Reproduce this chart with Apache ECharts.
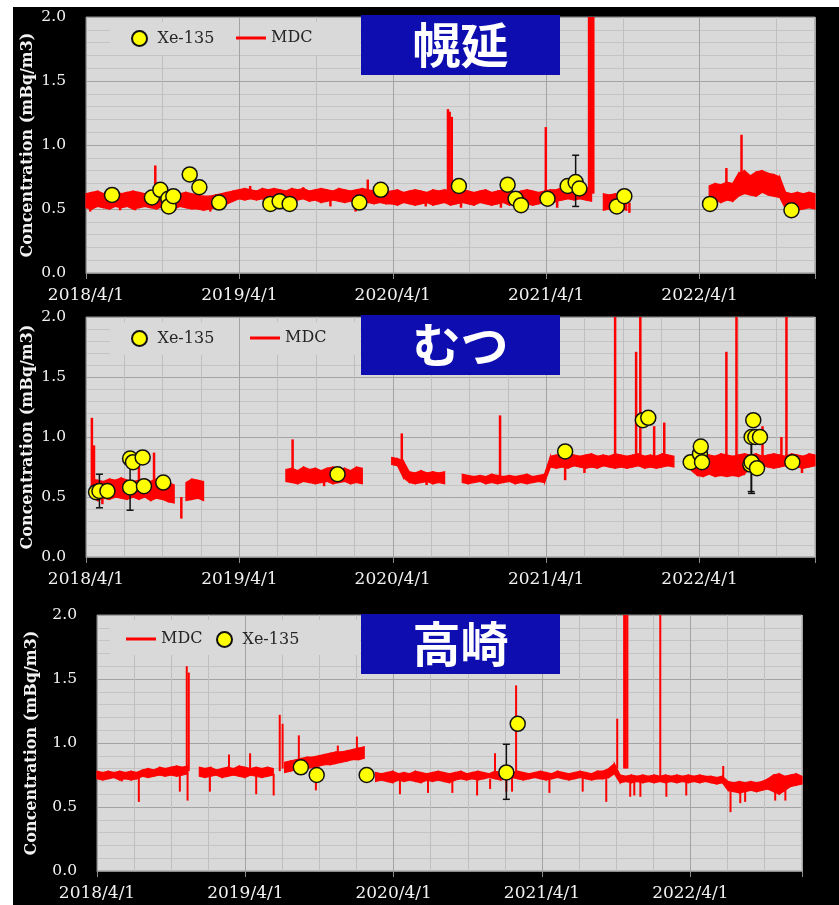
<!DOCTYPE html>
<html><head><meta charset="utf-8">
<script src="https://cdn.jsdelivr.net/npm/echarts@6/dist/echarts.min.js"></script>
<style>html,body{margin:0;padding:0;background:#fff;}#c{width:839px;height:905px;}</style>
</head><body><div id="c"></div>
<script>
// ---------- DATA ----------
const tickLabels = ['2018/4/1','2019/4/1','2020/4/1','2021/4/1','2022/4/1'];
const axisStart = '2018-04-01';
const axisEnd = '2023-01-01';
const bandStepDays = 14;   // MDC band (low / high envelope) read every two weeks from 2018-04-01
const stationNames = ['幌延','むつ','高崎'];

// ---- 幌延 MDC band ----
const mdcHoronobeHi = [
0.62,0.63,0.64,0.62,0.63,0.64,0.62,0.63,0.64,0.63,0.62,0.64,0.63,0.62,0.64,0.63,0.62,0.63,0.62,
0.61,0.60,0.60,0.61,0.62,0.63,0.64,
0.65,0.66,0.65,0.64,0.66,0.65,0.66,0.65,0.64,0.66,0.65,0.66,0.64,0.65,0.66,0.65,0.64,0.66,0.65,0.64,0.65,0.66,0.65,0.64,0.65,0.64,
0.64,0.65,0.63,0.64,0.65,0.64,0.63,0.65,0.64,0.65,0.64,0.63,0.65,0.64,0.63,0.64,0.65,0.63,0.64,0.65,0.64,0.63,0.64,0.65,0.64,0.63,0.64,0.65,
0.65,0.67,0.68,0.67,0.68,0.67,0.66,
null,
0.62,0.61,0.62,0.61,0.62,
null,null,null,null,null,null,null,null,null,null,null,null,null,
0.68,0.70,0.69,0.71,0.70,
0.78,0.80,0.76,0.79,0.80,0.78,0.77,0.75,
0.63,0.62,0.63,0.62,0.63,0.62];
const mdcHoronobeLo = [
0.51,0.50,0.52,0.51,0.50,0.52,0.51,0.52,0.50,0.51,0.52,0.51,0.50,0.52,0.51,0.50,0.52,0.51,0.50,
0.50,0.49,0.50,0.51,0.52,0.54,0.56,
0.58,0.57,0.58,0.57,0.58,0.56,0.57,0.58,0.57,0.56,0.57,0.58,0.56,0.57,0.55,0.56,0.57,0.56,0.55,0.56,0.55,0.56,0.55,0.54,0.55,0.54,
0.54,0.53,0.55,0.54,0.53,0.54,0.55,0.53,0.54,0.55,0.53,0.54,0.55,0.54,0.53,0.55,0.54,0.53,0.54,0.55,0.53,0.54,0.55,0.54,0.53,0.54,0.55,0.54,
0.56,0.57,0.58,0.57,0.58,0.57,0.56,
null,
0.49,0.50,0.48,0.50,0.49,
null,null,null,null,null,null,null,null,null,null,null,null,null,
0.56,0.57,0.55,0.57,0.56,
0.60,0.62,0.61,0.60,0.63,0.61,0.60,0.59,
0.50,0.51,0.49,0.50,0.51,0.50];
// 幌延 spikes and dips: date, band value, extreme value
const spkHoronobeDates = ['2018-04-11','2018-06-21','2018-07-27','2018-09-13','2018-10-02','2019-01-22','2019-04-27','2019-06-14','2019-08-31','2019-11-04','2020-01-03','2020-02-01','2020-06-18','2020-08-10','2020-08-14','2020-08-19','2020-09-10','2020-12-14','2021-01-31','2021-03-31','2021-04-27','2021-07-12','2021-07-17','2021-07-22','2021-10-16','2022-06-04','2022-07-10','2022-11-18'];
const spkHoronobeFrom = [0.56,0.56,0.56,0.60,0.56,0.55,0.62,0.60,0.62,0.60,0.58,0.62,0.58,0.60,0.60,0.60,0.58,0.58,0.58,0.60,0.58,0.62,0.62,0.62,0.55,0.65,0.68,0.56];
const spkHoronobeTo = [0.48,0.49,0.49,0.84,0.49,0.48,0.68,0.52,0.67,0.52,0.48,0.73,0.52,1.28,1.26,1.22,0.51,0.51,0.50,1.14,0.51,3.0,3.0,3.0,0.47,0.82,1.08,0.47];

// ---- むつ MDC band ----
const mdcMutsuHi = [
null,
0.65,0.64,0.63,0.65,0.64,0.66,0.64,0.63,
0.64,0.65,0.63,0.65,0.64,0.62,0.60,
null,
0.62,0.65,0.64,0.63,
null,null,null,null,null,null,null,null,null,null,null,null,null,
0.73,0.74,0.72,0.75,0.73,0.74,0.72,0.74,0.75,0.73,0.74,0.72,0.75,0.74,
null,null,null,null,
0.83,0.82,0.80,
0.71,0.70,0.72,0.70,0.71,0.70,0.71,
null,null,
0.69,0.68,0.67,0.68,0.67,0.69,0.68,0.67,0.68,0.67,0.68,0.69,0.67,0.68,0.69,
0.84,0.85,0.84,0.86,0.85,0.84,0.85,0.86,0.84,0.85,0.84,0.86,0.85,0.84,0.85,0.86,0.84,0.85,0.84,0.86,0.85,0.84,
null,null,
0.85,0.84,0.86,0.85,0.84,0.86,0.85,0.84,0.85,0.86,
0.85,0.86,0.84,0.85,0.86,0.85,0.84,0.86,0.85,0.84,0.86,0.85];
const mdcMutsuLo = [
null,
0.50,0.47,0.49,0.48,0.50,0.49,0.48,0.50,
0.48,0.50,0.47,0.49,0.48,0.46,0.45,
null,
0.47,0.48,0.49,0.47,
null,null,null,null,null,null,null,null,null,null,null,null,null,
0.63,0.62,0.61,0.63,0.62,0.61,0.62,0.63,0.61,0.62,0.63,0.61,0.62,0.61,
null,null,null,null,
0.77,0.76,0.66,
0.62,0.61,0.62,0.63,0.61,0.62,0.61,
null,null,
0.62,0.61,0.62,0.63,0.61,0.62,0.61,0.62,0.63,0.61,0.62,0.61,0.62,0.63,0.62,
0.75,0.74,0.75,0.74,0.76,0.75,0.74,0.75,0.74,0.76,0.75,0.74,0.75,0.74,0.75,0.76,0.74,0.75,0.74,0.75,0.76,0.75,
null,null,
0.72,0.68,0.67,0.69,0.67,0.68,0.67,0.68,0.67,0.69,
0.75,0.74,0.76,0.75,0.74,0.75,0.76,0.74,0.75,0.74,0.75,0.76];
const spkMutsuDates = ['2018-04-15','2018-04-20','2018-05-10','2018-08-05','2018-09-10','2018-11-14','2019-08-06','2019-10-20','2020-04-22','2020-06-20','2020-12-12','2021-05-16','2021-07-01','2021-09-12','2021-11-01','2021-11-11','2021-12-14','2022-01-07','2022-06-04','2022-06-28','2022-08-29','2022-10-13','2022-10-25','2022-12-01'];
const spkMutsuFrom = [0.55,0.55,0.50,0.55,0.55,0.50,0.68,0.66,0.80,0.65,0.65,0.78,0.78,0.80,0.80,0.80,0.80,0.80,0.80,0.80,0.80,0.80,0.80,0.80];
const spkMutsuTo = [1.16,0.93,0.44,0.82,0.87,0.32,0.98,0.59,1.03,0.60,1.18,0.64,0.70,3.0,1.71,3.0,1.09,1.12,1.71,3.0,1.09,1.00,3.0,0.70];

// ---- 高崎 MDC band ----
const mdcTakasakiHi = [
0.78,0.77,0.78,0.77,0.78,0.77,0.78,0.77,
0.79,0.80,0.79,0.81,0.80,0.81,0.82,0.81,0.82,
null,
0.81,0.80,0.81,0.79,0.80,0.81,0.80,0.82,0.81,0.80,0.81,0.80,0.81,0.80,
null,
0.85,0.86,0.87,0.88,0.89,0.89,0.90,0.91,0.92,0.93,0.93,0.94,0.95,0.96,0.97,
null,
0.77,0.76,0.77,0.78,0.76,0.77,0.76,0.78,0.77,0.76,0.77,0.78,0.77,0.76,0.77,0.78,0.76,0.77,0.78,0.77,
0.76,0.78,0.77,0.76,0.77,0.78,0.77,0.76,0.77,0.78,0.77,0.76,0.78,0.77,0.76,0.77,0.78,0.77,0.76,0.78,
0.78,0.80,0.84,
0.75,0.74,0.75,0.74,0.75,0.74,0.75,0.74,0.75,0.74,0.75,0.74,0.75,0.74,0.75,0.74,
0.74,0.73,0.74,
0.70,0.69,0.70,0.69,0.70,0.69,0.70,0.72,
0.75,0.76,0.74,0.75,0.76,0.74];
const mdcTakasakiLo = [
0.72,0.71,0.72,0.73,0.71,0.72,0.71,0.72,
0.74,0.73,0.74,0.75,0.74,0.75,0.74,0.75,0.76,
null,
0.74,0.73,0.74,0.75,0.73,0.74,0.75,0.74,0.73,0.75,0.74,0.73,0.74,0.75,
null,
0.77,0.78,0.79,0.79,0.80,0.81,0.82,0.83,0.83,0.84,0.85,0.86,0.87,0.87,0.88,
null,
0.70,0.71,0.70,0.69,0.71,0.70,0.71,0.70,0.69,0.71,0.70,0.71,0.70,0.69,0.71,0.72,0.71,0.72,0.71,0.72,
0.73,0.72,0.71,0.72,0.73,0.72,0.71,0.72,0.73,0.72,0.71,0.72,0.73,0.72,0.71,0.72,0.73,0.72,0.71,0.72,
0.72,0.73,0.76,
0.69,0.70,0.69,0.70,0.69,0.70,0.69,0.70,0.69,0.70,0.69,0.70,0.69,0.70,0.69,0.70,
0.69,0.68,0.69,
0.63,0.62,0.61,0.62,0.63,0.62,0.63,0.64,
0.62,0.60,0.63,0.66,0.67,0.68];
const spkTakasakiDates = ['2018-06-01','2018-07-13','2018-10-22','2018-11-08','2018-11-10','2018-11-13','2019-01-04','2019-02-20','2019-04-13','2019-04-28','2019-06-10','2019-06-25','2019-07-02','2019-08-11','2019-09-22','2019-11-15','2020-01-01','2020-04-16','2020-06-24','2020-08-23','2020-10-23','2020-11-24','2020-12-06','2021-01-03','2021-01-17','2021-01-27','2021-04-19','2021-07-10','2021-09-06','2021-10-03','2021-10-20','2021-10-24','2021-10-28','2021-11-04','2021-11-14','2021-11-29','2022-01-17','2022-02-01','2022-03-22','2022-06-21','2022-07-09','2022-08-02','2022-08-14','2022-10-27','2022-11-21'];
const spkTakasakiFrom = [0.74,0.75,0.76,0.78,0.76,0.78,0.76,0.76,0.78,0.76,0.76,0.78,0.80,0.82,0.80,0.86,0.90,0.72,0.72,0.72,0.72,0.72,0.75,0.74,0.74,0.76,0.74,0.74,0.74,0.80,0.80,0.80,0.80,0.72,0.72,0.72,0.72,0.70,0.70,0.72,0.66,0.65,0.65,0.66,0.66];
const spkTakasakiTo = [0.70,0.54,0.62,1.60,0.55,1.55,0.62,0.91,0.92,0.60,0.59,1.22,1.15,1.06,0.63,0.98,1.05,0.60,0.61,0.61,0.59,0.64,0.92,0.62,0.62,1.45,0.61,0.62,0.54,1.19,3.0,3.0,3.0,0.58,0.59,0.58,3.0,0.58,0.59,0.82,0.46,0.53,0.54,0.55,0.55];

// ---- Xe-135 detections ----
const xeHoronobeDates = ['2018-06-02','2018-09-05','2018-09-25','2018-10-14','2018-10-15','2018-10-26','2018-12-04','2018-12-27','2019-02-12','2019-06-14','2019-07-06','2019-07-30','2020-01-12','2020-03-03','2020-09-05','2020-12-30','2021-01-18','2021-01-31','2021-04-04','2021-05-22','2021-06-10','2021-06-19','2021-09-16','2021-10-04','2022-04-26','2022-11-06'];
const xeHoronobe = [0.61,0.59,0.65,0.58,0.52,0.60,0.77,0.67,0.55,0.54,0.56,0.54,0.55,0.65,0.68,0.69,0.58,0.53,0.58,0.68,0.71,0.66,0.52,0.60,0.54,0.49];
const errHoronobeDates = ['2021-06-10'];
const errHoronobeLo = [0.52];
const errHoronobeHi = [0.92];

const xeMutsuDates = ['2018-04-25','2018-05-03','2018-05-22','2018-07-15','2018-07-15','2018-07-22','2018-08-14','2018-08-17','2018-10-02','2019-11-21','2021-05-16','2021-11-17','2021-11-30','2022-03-11','2022-04-02','2022-04-04','2022-04-07','2022-07-31','2022-08-03','2022-08-03','2022-08-07','2022-08-12','2022-08-16','2022-08-23','2022-11-08'];
const xeMutsu = [0.54,0.55,0.55,0.58,0.82,0.79,0.83,0.59,0.62,0.69,0.88,1.14,1.16,0.79,0.86,0.92,0.79,0.77,0.79,1.00,1.14,1.00,0.74,1.00,0.79];
const errMutsuDates = ['2018-05-03','2018-07-15','2022-08-02','2022-08-03'];
const errMutsuLo = [0.41,0.39,0.545,0.53];
const errMutsuHi = [0.69,0.77,1.03,1.00];

const xeTakasakiDates = ['2019-08-16','2019-09-24','2020-01-25','2021-01-03','2021-01-31'];
const xeTakasaki = [0.81,0.75,0.75,0.77,1.15];
const errTakasakiDates = ['2021-01-03'];
const errTakasakiLo = [0.56];
const errTakasakiHi = [0.99];

// ---------- HELPERS ----------
function parseUTC(s){const p=s.split('-').map(Number);return Date.UTC(p[0],p[1]-1,p[2]);}
const BASE = parseUTC(axisStart);
function dayOf(s){return (parseUTC(s)-BASE)/86400000;}
const XMAX = dayOf(axisEnd);
const YEAR = 365.25;

// band segments between consecutive non-null envelope readings
function bandSegments(lo,hi){
  const out=[];
  for(let j=0;j+1<lo.length;j++){
    if(lo[j]==null||lo[j+1]==null) continue;
    out.push([j*bandStepDays, lo[j], hi[j], (j+1)*bandStepDays, lo[j+1], hi[j+1]]);
  }
  return out;
}
function pairs(d,v){return d.map((s,i)=>[dayOf(s), v[i]]);}
function triples(d,a,b){return d.map((s,i)=>[dayOf(s), a[i], b[i]]);}

function clampY(cs,y){return Math.max(cs.y, Math.min(cs.y+cs.height, y));}
function bandRender(params, api){
  const p1=api.coord([api.value(0),api.value(1)]), p2=api.coord([api.value(0),api.value(2)]);
  const p3=api.coord([api.value(3),api.value(5)]), p4=api.coord([api.value(3),api.value(4)]);
  return {type:'polygon', shape:{points:[p1,p2,p3,p4]},
    style:{fill:'#ff0000', stroke:'#ff0000', lineWidth:1.2}};
}
function errRender(params, api){
  const x=api.value(0);
  const a=api.coord([x,api.value(1)]), b=api.coord([x,api.value(2)]);
  const w=3.5, st={stroke:'#111', lineWidth:1.5};
  return {type:'group', children:[
    {type:'line', shape:{x1:a[0],y1:a[1],x2:b[0],y2:b[1]}, style:st},
    {type:'line', shape:{x1:a[0]-w,y1:a[1],x2:a[0]+w,y2:a[1]}, style:st},
    {type:'line', shape:{x1:b[0]-w,y1:b[1],x2:b[0]+w,y2:b[1]}, style:st}
  ]};
}
function spikeRender(lw){
  return function(params, api){
    const cs=params.coordSys, x=api.value(0);
    const a=api.coord([x,api.value(1)]), b=api.coord([x,api.value(2)]);
    return {type:'line', shape:{x1:a[0],y1:clampY(cs,a[1]),x2:b[0],y2:clampY(cs,b[1])},
      style:{stroke:'#ff0000', lineWidth:lw}};
  };
}

// ---------- LAYOUT ----------
const panels = [
  {left:86, top:17, width:729, height:256, minorDays:182.625, nameGap:50, lw:2.5,
   lo:mdcHoronobeLo, hi:mdcHoronobeHi, sd:spkHoronobeDates, sf:spkHoronobeFrom, st:spkHoronobeTo,
   xd:xeHoronobeDates, xv:xeHoronobe, ed:errHoronobeDates, el:errHoronobeLo, eh:errHoronobeHi,
   box:{x:361,y:15}, legXe:{left:131,top:30}, legMdc:{left:236,top:30}, legBg:{x:110,y:22,w:250,h:33}},
  {left:86, top:317, width:729, height:240, minorDays:91.3125, nameGap:50, lw:2.5,
   lo:mdcMutsuLo, hi:mdcMutsuHi, sd:spkMutsuDates, sf:spkMutsuFrom, st:spkMutsuTo,
   xd:xeMutsuDates, xv:xeMutsu, ed:errMutsuDates, el:errMutsuLo, eh:errMutsuHi,
   box:{x:361,y:315}, legXe:{left:131,top:330}, legMdc:{left:250,top:330}, legBg:{x:110,y:322,w:250,h:33}},
  {left:97, top:615, width:705, height:256, minorDays:91.3125, nameGap:57, lw:2,
   lo:mdcTakasakiLo, hi:mdcTakasakiHi, sd:spkTakasakiDates, sf:spkTakasakiFrom, st:spkTakasakiTo,
   xd:xeTakasakiDates, xv:xeTakasaki, ed:errTakasakiDates, el:errTakasakiLo, eh:errTakasakiHi,
   box:{x:361,y:614}, legXe:{left:216,top:631}, legMdc:{left:126,top:631}, legBg:{x:110,y:620,w:250,h:35}}
];

const FONT = 'DejaVu Serif';
const RED = '#ff0000';
const grid=[], xAxis=[], yAxis=[], series=[], legend=[], graphic=[];

panels.forEach((p,k)=>{
  grid.push({left:p.left, top:p.top, width:p.width, height:p.height, show:true,
    backgroundColor:'#d9d9d9', borderColor:'#8c8c8c', borderWidth:1, outerBoundsMode:'none', containLabel:false});
  xAxis.push({type:'value', gridIndex:k, position:'bottom', min:0, max:XMAX, interval:YEAR,
    axisLine:{show:true, lineStyle:{color:'#8c8c8c', width:1}},
    axisTick:{show:true, length:6, lineStyle:{color:'#8c8c8c'}},
    axisLabel:{color:'#f2f2f2', fontFamily:FONT, fontSize:17, margin:14, showMaxLabel:true, hideOverlap:false,
      formatter:function(v){const j=Math.round(v/YEAR);return (Math.abs(v-j*YEAR)<0.5 && j<tickLabels.length)?tickLabels[j]:'';}},
    splitLine:{show:true, lineStyle:{color:'#a3a3a3', width:1}}, z:1});
  xAxis.push({type:'value', gridIndex:k, position:'top', min:0, max:XMAX, interval:p.minorDays,
    axisLine:{show:false}, axisTick:{show:false}, axisLabel:{show:false},
    splitLine:{show:true, lineStyle:{color:'#bfbfbf', width:1}}, z:0});
  yAxis.push({type:'value', gridIndex:k, min:0, max:2, interval:0.5,
    name:'Concentration (mBq/m3)', nameLocation:'middle', nameGap:p.nameGap, nameMoveOverlap:false,
    nameTextStyle:{color:'#f2f2f2', fontFamily:FONT, fontWeight:'bold', fontSize:16},
    axisLine:{show:false}, axisTick:{show:false},
    axisLabel:{color:'#f2f2f2', fontFamily:FONT, fontSize:15.5, margin:20, formatter:v=>v.toFixed(1)},
    splitLine:{show:true, lineStyle:{color:'#a3a3a3', width:1}},
    minorTick:{show:false, splitNumber:5},
    minorSplitLine:{show:true, lineStyle:{color:'#c4c4c4', width:1}}});
  const xi=k*2;
  series.push({type:'custom', name:'MDC', xAxisIndex:xi, yAxisIndex:k, data:bandSegments(p.lo,p.hi),
    renderItem:bandRender, encode:{x:[0,3], y:[1,2,4,5]}, itemStyle:{color:RED}, z:2, animation:false});
  series.push({type:'custom', name:'MDC spikes', xAxisIndex:xi, yAxisIndex:k, data:triples(p.sd,p.sf,p.st),
    renderItem:spikeRender(p.lw), encode:{x:0, y:[1,2]}, itemStyle:{color:RED}, z:2, animation:false});
  series.push({type:'custom', name:'err', xAxisIndex:xi, yAxisIndex:k, data:triples(p.ed,p.el,p.eh),
    renderItem:errRender, encode:{x:0, y:[1,2]}, z:3, animation:false});
  series.push({type:'scatter', name:'Xe-135', xAxisIndex:xi, yAxisIndex:k, data:pairs(p.xd,p.xv),
    symbol:'circle', symbolSize:15, color:'#ffff00',
    itemStyle:{color:'#ffff00', borderColor:'#111', borderWidth:1.5, opacity:1}, z:4, animation:false});
  legend.push({data:[{name:'Xe-135', icon:'circle'}], left:p.legXe.left, top:p.legXe.top, padding:0,
    itemWidth:26, itemHeight:15, selectedMode:false, z:6,
    textStyle:{color:'#262626', fontFamily:FONT, fontSize:16, lineHeight:16}});
  legend.push({data:[{name:'MDC', icon:'rect', itemStyle:{color:RED}}], left:p.legMdc.left, top:p.legMdc.top, padding:0,
    itemWidth:30, itemHeight:3, selectedMode:false, z:6,
    textStyle:{color:'#262626', fontFamily:FONT, fontSize:16, lineHeight:16}});
  graphic.push({type:'rect', shape:{x:p.legBg.x, y:p.legBg.y, width:p.legBg.w, height:p.legBg.h},
    style:{fill:'#d9d9d9'}, z:1, silent:true});
  graphic.push({type:'rect', shape:{x:p.box.x, y:p.box.y, width:199, height:60},
    style:{fill:'#0d0db0'}, z:20, silent:true});
  graphic.push({type:'text', x:p.box.x+99.5, y:p.box.y+30,
    style:{text:stationNames[k], fill:'#ffffff', font:'bold 48px "Noto Sans CJK JP"', align:'center', verticalAlign:'middle'},
    z:21, silent:true});
});
graphic.push({type:'rect', shape:{x:0,y:0,width:839,height:7}, style:{fill:'#ffffff'}, z:50, silent:true});
graphic.push({type:'rect', shape:{x:0,y:0,width:13,height:905}, style:{fill:'#ffffff'}, z:50, silent:true});

const chart = echarts.init(document.getElementById('c'), null, {renderer:'canvas'});
chart.setOption({
  backgroundColor:'#000000', animation:false,
  grid, xAxis, yAxis, series, legend, graphic
});
</script>
</body></html>
